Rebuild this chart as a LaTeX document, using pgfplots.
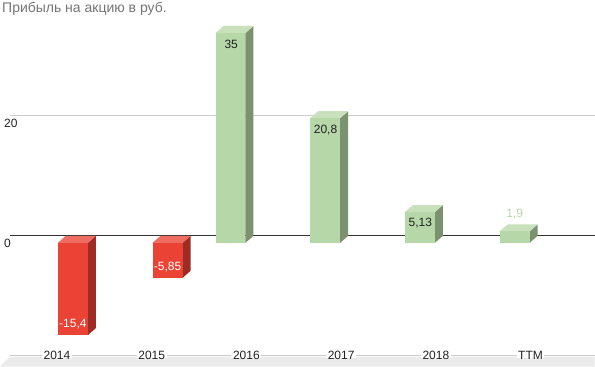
\documentclass[border=0pt]{standalone}
\usepackage{pgfplots}
\pgfplotsset{compat=1.18}
\usepackage{fontspec}
\setmainfont{Liberation Sans}
\definecolor{gfront}{HTML}{B6D7A8}
\definecolor{gtop}{HTML}{C8E1BC}
\definecolor{gside}{HTML}{7B9170}
\definecolor{rfront}{HTML}{EA4335}
\definecolor{rtop}{HTML}{EF6C61}
\definecolor{rside}{HTML}{9E2C24}
\definecolor{txt}{HTML}{222222}
\definecolor{ttl}{HTML}{757575}
\definecolor{gridc}{HTML}{CCCCCC}
\definecolor{floorc}{HTML}{EBEBEB}
\definecolor{zeroc}{HTML}{333333}

% 3D bar: #1 left x of front face, #2 value, #3 front, #4 side, #5 top colour
\newcommand{\tdbar}[5]{%
  \pgfmathsetmacro\xa{#1}%
  \pgfmathsetmacro\xb{#1+0.3165}%
  \pgfmathsetmacro\xc{#1+0.3165+0.0844}%
  \pgfmathsetmacro\xd{#1+0.0844}%
  \pgfmathsetmacro\yf{#2-1.1667}%
  \pgfmathsetmacro\yz{-1.1667}%
  \pgfmathsetmacro\yt{max(#2,0)}%
  \pgfmathsetmacro\ytf{\yt-1.1667}%
  \addplot[fill=#4, draw=none] coordinates {(\xb,\yz) (\xc,0) (\xc,#2) (\xb,\yf)};
  \addplot[fill=#5, draw=none] coordinates {(\xa,\ytf) (\xb,\ytf) (\xc,\yt) (\xd,\yt)};
  \addplot[fill=#3, draw=none] coordinates {(\xa,\yz) (\xb,\yz) (\xb,\yf) (\xa,\yf)};
}
\newcommand{\lbl}{\fontsize{12}{14}\selectfont}

\begin{document}
\begin{tikzpicture}
\begin{axis}[
  x=94.8pt, y=6pt,
  xmin=-0.4958, xmax=5.6751,
  ymin=-21.8333, ymax=39.3333,
  clip=false,
  axis on top,
  axis line style={draw=none},
  tick style={draw=none},
  major tick length=0pt,
  ytick={0,20}, yticklabels={0,20},
  xtick={0,1,2,3,4,5}, xticklabels={2014,2015,2016,2017,2018,TTM},
  yticklabel style={anchor=west, xshift=-6pt, yshift=-7.5pt, inner sep=0pt,
    font=\lbl, text=txt},
  xticklabel style={anchor=center, yshift=11pt, inner sep=0pt,
    font=\lbl, text=txt},
  /pgf/number format/assume math mode=true,
]
% floor
\fill[floorc] (axis cs:-0.4958,-20.1667) -- (axis cs:5.6751,-20.1667) -- (axis cs:5.6751,-21.8333) -- (axis cs:-0.6013,-21.8333) -- cycle;
\draw[gridc, line width=1pt] (axis cs:-0.4958,-20) -- (axis cs:5.6751,-20);
\fill[white] (axis cs:-0.158,-19.6) rectangle (axis cs:0.158,-20.4);
\fill[white] (axis cs:0.842,-19.6) rectangle (axis cs:1.158,-20.4);
\fill[white] (axis cs:1.842,-19.6) rectangle (axis cs:2.158,-20.4);
\fill[white] (axis cs:2.842,-19.6) rectangle (axis cs:3.158,-20.4);
\fill[white] (axis cs:3.842,-19.6) rectangle (axis cs:4.158,-20.4);
\fill[white] (axis cs:4.855,-19.6) rectangle (axis cs:5.145,-20.4);
% grid line and zero line
\draw[gridc, line width=1pt] (axis cs:-0.4958,20) -- (axis cs:5.6751,20);
\draw[zeroc, line width=1pt] (axis cs:-0.4958,0) -- (axis cs:5.6751,0);

% bars
\tdbar{0.01}{-15.4}{rfront}{rside}{rtop}
\tdbar{1.01}{-5.85}{rfront}{rside}{rtop}
\tdbar{1.674}{35}{gfront}{gside}{gtop}
\tdbar{2.674}{20.8}{gfront}{gside}{gtop}
\tdbar{3.674}{5.13}{gfront}{gside}{gtop}
\tdbar{4.674}{1.9}{gfront}{gside}{gtop}

% value labels
\node[text=white, font=\lbl, inner sep=0pt, anchor=center] at (axis cs:0.168,-14.817) {-15,4};
\node[text=white, font=\lbl, inner sep=0pt, anchor=center] at (axis cs:1.168,-5.267) {-5,85};
\node[text=txt, font=\lbl, inner sep=0pt, anchor=center] at (axis cs:1.840,31.917) {35};
\node[text=txt, font=\lbl, inner sep=0pt, anchor=center] at (axis cs:2.836,17.717) {20,8};
\node[text=txt, font=\lbl, inner sep=0pt, anchor=center] at (axis cs:3.836,2.047) {5,13};
\node[text=gfront, font=\lbl, inner sep=0pt, anchor=center] at (axis cs:4.832,3.58) {1,9};

% title
\node[anchor=base west, inner sep=0pt, text=ttl, font=\fontsize{14}{16}\selectfont] at (axis cs:-0.5802,37.1667) {Прибыль на акцию в руб.};
% bounding box
\path (axis cs:-0.6013,-21.8333) rectangle (axis cs:5.6751,39.3333);
\end{axis}
\end{tikzpicture}
\end{document}
